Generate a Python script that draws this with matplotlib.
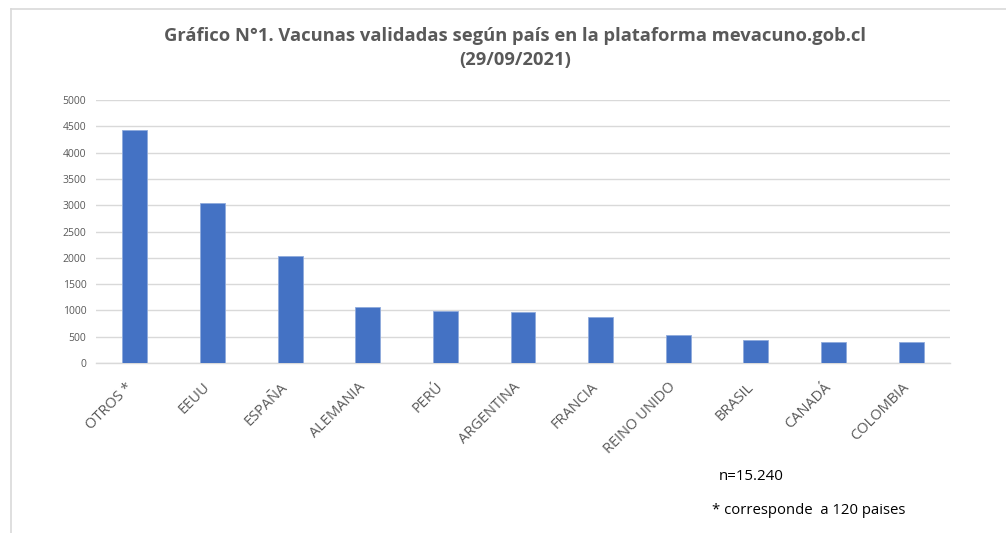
import matplotlib.pyplot as plt
from matplotlib.lines import Line2D
from matplotlib.transforms import ScaledTranslation

# data
paises = ["OTROS *", "EEUU", "ESPAÑA", "ALEMANIA", "PERÚ", "ARGENTINA",
          "FRANCIA", "REINO UNIDO", "BRASIL", "CANADÁ", "COLOMBIA"]
vacunas = [4430, 3042, 2034, 1057, 987, 974, 872, 534, 433, 408, 408]
y_ticks = [0, 500, 1000, 1500, 2000, 2500, 3000, 3500, 4000, 4500, 5000]

titulo = "Gráfico N°1. Vacunas validadas según país en la plataforma mevacuno.gob.cl\n(29/09/2021)"
nota_n = "n=15.240"
nota_otros = "* corresponde  a 120 paises"

plt.rcParams['font.family'] = ['Open Sans', 'DejaVu Sans']

W, H = 1006, 533
fig = plt.figure(figsize=(W / 100, H / 100), dpi=100)
fig.patch.set_facecolor("white")

# axes area in pixels: x 96..950, y 100..363
ax = fig.add_axes([96 / W, 1 - 363 / H, (950 - 96) / W, (363 - 100) / H])

x = range(len(paises))
ax.bar(x, vacunas, width=0.32, color="#4472C4", edgecolor="#8FAADC",
       linewidth=0.6, zorder=3)

ax.set_xlim(-0.5, len(paises) - 0.5)
ax.set_ylim(0, 5000)
ax.set_yticks(y_ticks)
ax.set_yticklabels([str(v) for v in y_ticks], fontsize=7.5, color="#595959")
ax.set_xticks(list(x))
ax.set_xticklabels(paises, rotation=45, ha="right", va="top",
                   rotation_mode="anchor", fontsize=10.5, color="#595959")
ax.tick_params(axis="both", length=0)
ax.tick_params(axis="x", pad=12)
ax.tick_params(axis="y", pad=7)

# nudge the rotated labels a little to the left, like the reference
shift = ScaledTranslation(-10 / 100, 0, fig.dpi_scale_trans)
for lab in ax.get_xticklabels():
    lab.set_transform(lab.get_transform() + shift)

ax.grid(axis="y", color="#D9D9D9", linewidth=1, zorder=0)
for s in ["top", "right", "left"]:
    ax.spines[s].set_visible(False)
ax.spines["bottom"].set_color("#D9D9D9")
ax.spines["bottom"].set_linewidth(1)

fig.text(515 / W, 1 - 48 / H, titulo, ha="center", va="center",
         fontsize=13.2, fontweight="bold", color="#595959", linespacing=1.45)

fig.text(719 / W, 1 - 477 / H, nota_n, ha="left", va="center",
         fontsize=10.8, color="black")
fig.text(712 / W, 1 - 511 / H, nota_otros, ha="left", va="center",
         fontsize=10.7, color="black")

# thin frame lines at the top and left
fig.add_artist(Line2D([11 / W, 1], [1 - 9 / H, 1 - 9 / H],
                      transform=fig.transFigure, color="#D9D9D9", linewidth=1.2))
fig.add_artist(Line2D([11 / W, 11 / W], [0, 1 - 9 / H],
                      transform=fig.transFigure, color="#D9D9D9", linewidth=1.2))

fig.savefig("out.png", dpi=100, facecolor="white")
